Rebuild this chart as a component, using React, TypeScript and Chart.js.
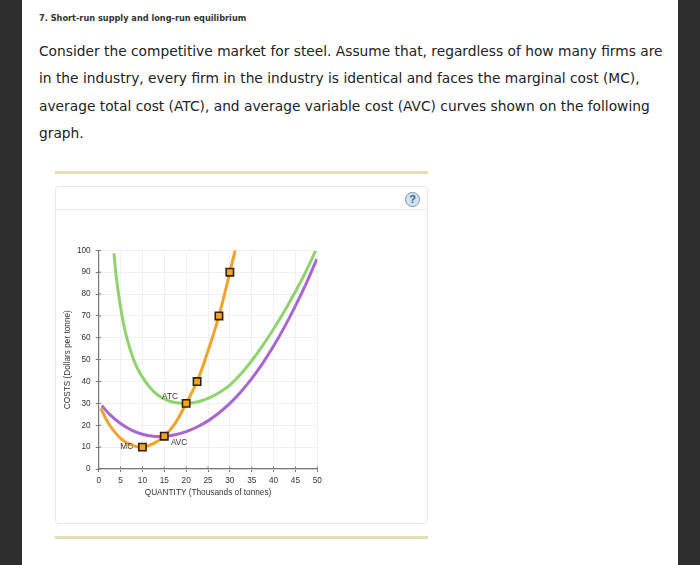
import React, { useEffect, useRef } from "react";
import { Chart, registerables } from "chart.js";

Chart.register(...registerables);

const heading = "7. Short-run supply and long-run equilibrium";
const paragraphLines = [
  "Consider the competitive market for steel. Assume that, regardless of how many firms are",
  "in the industry, every firm in the industry is identical and faces the marginal cost (MC),",
  "average total cost (ATC), and average variable cost (AVC) curves shown on the following",
  "graph.",
];

const xTitle = "QUANTITY (Thousands of tonnes)";
const yTitle = "COSTS (Dollars per tonne)";

const mcX = [0.45, 2.5, 5, 7.5, 10, 12.5, 15, 17.5, 20, 22.5, 25, 27.5, 30, 31.2];
const mcY = [27.7, 20, 14, 10.9, 10, 11.6, 15, 20.9, 30, 40, 54, 70, 90, 100];

const atcX = [3.5, 4, 5, 6, 7, 8, 9, 10, 11.25, 12.5, 13.75, 15, 16.25, 17.5, 20, 22.5, 25, 27.5, 30, 32.5, 35, 37.5, 40, 42.5, 45, 47.5, 49.6];
const atcY = [98.6, 88, 74, 63.5, 56, 50, 45.5, 42, 38.4, 35.6, 33.5, 32, 31, 30.4, 30, 30.6, 32.3, 34.9, 38.4, 43.4, 49.5, 56.4, 64, 72.3, 81.2, 90.7, 99.7];

const avcX = [0.7, 2.5, 5, 7.5, 10, 12.5, 15, 17.5, 20, 22.5, 25, 27.5, 30, 32.5, 35, 37.5, 40, 42.5, 45, 47.5, 49.9];
const avcY = [29, 25, 20.8, 17.8, 15.9, 15, 15, 15.7, 17.1, 19.2, 22, 25.6, 30, 35.2, 41.3, 48.3, 56.2, 65, 74.6, 85, 96];

const markerX = [10, 15, 20, 22.5, 27.5, 30];
const markerY = [10, 15, 30, 40, 70, 90];

const curveLabels = ["ATC", "AVC", "MC"];
const curveLabelX = [16.3, 18.4, 6.4];
const curveLabelY = [33, 11.8, 10];

const pairs = (xs: number[], ys: number[]) => xs.map((x, i) => ({ x, y: ys[i] }));

const FONT = "'Liberation Sans', Arial, sans-serif";

const overlay = {
  id: "overlay",
  beforeDatasetsDraw(chart: any) {
    const { ctx, scales } = chart;
    const xs = scales.x;
    const ys = scales.y;
    ctx.save();
    ctx.strokeStyle = "#777";
    ctx.lineWidth = 1;
    ctx.beginPath();
    xs.ticks.forEach((t: any) => {
      const p = xs.getPixelForValue(t.value);
      ctx.moveTo(p, ys.bottom - 2.5);
      ctx.lineTo(p, ys.bottom);
    });
    ys.ticks.forEach((t: any) => {
      const p = ys.getPixelForValue(t.value);
      ctx.moveTo(xs.left, p);
      ctx.lineTo(xs.left + 2.5, p);
    });
    ctx.stroke();
    ctx.restore();
  },
  afterDatasetsDraw(chart: any) {
    const { ctx, scales } = chart;
    ctx.save();
    ctx.font = `8.25px ${FONT}`;
    ctx.fillStyle = "#333";
    ctx.textAlign = "center";
    ctx.textBaseline = "middle";
    curveLabels.forEach((text, i) => {
      ctx.fillText(text, scales.x.getPixelForValue(curveLabelX[i]), scales.y.getPixelForValue(curveLabelY[i]));
    });
    ctx.restore();
  },
};

export default function App() {
  const ref = useRef<HTMLCanvasElement>(null);

  useEffect(() => {
    if (!ref.current) return;
    const line = (label: string, data: any[], color: string) => ({
      label,
      data,
      borderColor: color,
      borderWidth: 3,
      pointRadius: 0,
      tension: 0.4,
      fill: false,
    });
    const chart = new Chart(ref.current, {
      type: "line",
      data: {
        datasets: [
          {
            label: "MC points",
            data: pairs(markerX, markerY),
            showLine: false,
            pointStyle: "rect",
            pointRadius: 5.2,
            pointBackgroundColor: "#f7a11e",
            pointBorderColor: "#2b2118",
            pointBorderWidth: 1.6,
          },
          line("MC", pairs(mcX, mcY), "#f2a12c"),
          line("AVC", pairs(avcX, avcY), "#a966d2"),
          line("ATC", pairs(atcX, atcY), "#8fd36f"),
        ],
      },
      options: {
        responsive: false,
        animation: false,
        events: [],
        layout: { padding: { left: 0, right: 109.7, top: 39.3, bottom: 25 } },
        plugins: { legend: { display: false }, tooltip: { enabled: false } },
        scales: {
          x: {
            type: "linear",
            min: 0,
            max: 50,
            afterFit: (s: any) => { s.height = 29; },
            ticks: { stepSize: 5, color: "#333", font: { family: FONT, size: 8.25 }, padding: 4, maxRotation: 0 },
            grid: { color: "#f0f0f0", lineWidth: 1, tickLength: 3, tickColor: "#777" },
            border: { color: "#777", width: 1.2 },
            title: { display: true, text: xTitle, color: "#333", font: { family: FONT, size: 8.25 }, padding: { top: 1, bottom: 0 } },
          },
          y: {
            min: 0,
            max: 100,
            afterFit: (s: any) => { s.width = 42.7; },
            ticks: { stepSize: 10, color: "#333", font: { family: FONT, size: 8.25 }, padding: 5 },
            grid: { color: "#f0f0f0", lineWidth: 1, tickLength: 3, tickColor: "#777" },
            border: { color: "#777", width: 1.2 },
            title: { display: true, text: yTitle, color: "#333", font: { family: FONT, size: 8.25 }, padding: { top: 7, bottom: 0 } },
          },
        },
      },
      plugins: [overlay],
    } as any);
    return () => chart.destroy();
  }, []);

  const abs = (left: number, top: number, width: number, height: number, extra: React.CSSProperties = {}): React.CSSProperties => ({
    position: "absolute", left, top, width, height, boxSizing: "border-box", ...extra,
  });

  return (
    <div style={{ position: "fixed", left: 0, top: 0, width: 700, height: 565, background: "#fff", overflow: "hidden" }}>
      <div style={abs(0, 0, 22, 565, { background: "#2e2e2e" })} />
      <div style={abs(678, 0, 22, 565, { background: "#2e2e2e" })} />
      <div style={{ position: "absolute", left: 39, top: 12, fontFamily: "'DejaVu Sans', sans-serif", fontWeight: 700, fontSize: 9, lineHeight: "12px", color: "#333", whiteSpace: "nowrap", transform: "scaleX(0.91)", transformOrigin: "left center" }}>{heading}</div>
      {paragraphLines.map((t, i) => (
        <div key={i} style={{ position: "absolute", left: 39, top: 41 + i * 27.3, fontFamily: "'DejaVu Sans', sans-serif", fontSize: 14.5, lineHeight: "20px", color: "#222", whiteSpace: "nowrap", transform: "scaleX(0.95)", transformOrigin: "left center" }}>{t}</div>
      ))}
      <div style={abs(55, 170.5, 373, 3, { background: "#e6dcb4" })} />
      <div style={abs(55, 186, 373, 338, { border: "1px solid #e4e6e8", borderRadius: 4 })} />
      <div style={abs(56, 209, 371, 1, { background: "#e8ecef" })} />
      <div style={abs(405, 192, 15, 15, { borderRadius: "50%", background: "#d3e2ef", border: "1.5px solid #7395b8", color: "#3d6288", fontFamily: FONT, fontWeight: 700, fontSize: 11, lineHeight: "12px", textAlign: "center" })}>?</div>
      <div style={abs(55, 536, 373, 3, { background: "#e6dcb4" })} />
      <canvas ref={ref} width={371} height={312} style={{ position: "absolute", left: 56, top: 211, width: 371, height: 312 }} />
    </div>
  );
}
